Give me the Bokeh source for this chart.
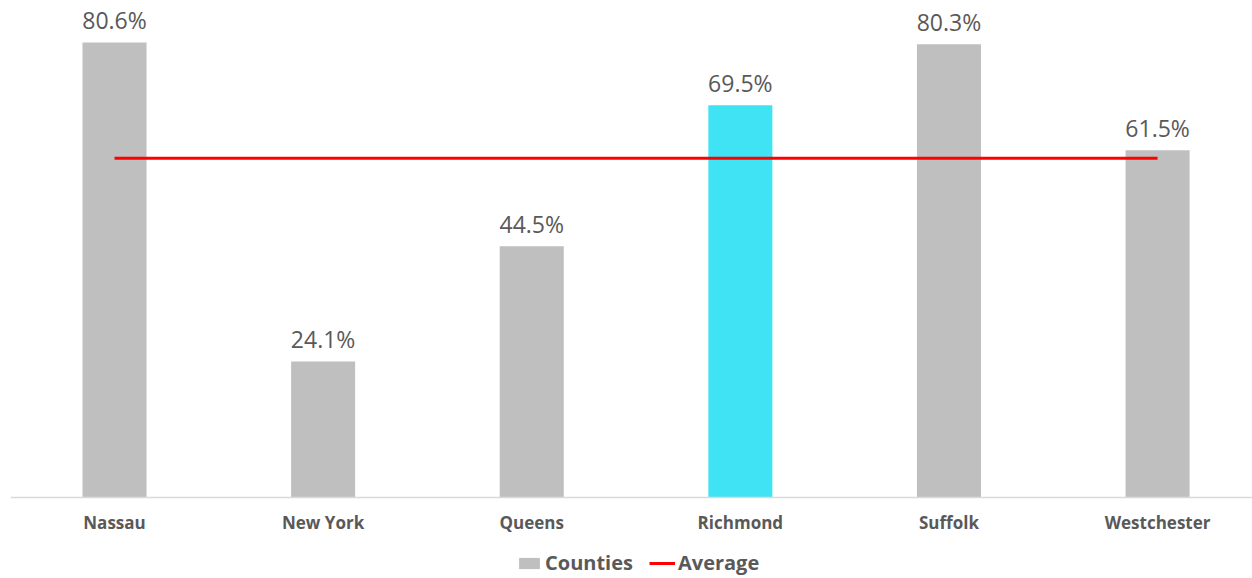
from bokeh.plotting import figure
from bokeh.models import Range1d, ColumnDataSource, Legend, LegendItem, FixedTicker
from bokeh.embed import file_html
from bokeh.resources import INLINE
from bokeh.core.properties import value

counties = ["Nassau", "New York", "Queens", "Richmond", "Suffolk", "Westchester"]
rates = [80.6, 24.1, 44.5, 69.5, 80.3, 61.5]
bar_colors = ["#bfbfbf", "#bfbfbf", "#bfbfbf", "#3fe3f3", "#bfbfbf", "#bfbfbf"]

xs = list(range(len(counties)))
labels = [f"{v:.1f}%" for v in rates]
average = sum(rates) / len(rates)

src = ColumnDataSource(dict(x=xs, top=rates, color=bar_colors, label=labels))

p = figure(width=1252, height=578, output_backend="svg", toolbar_location=None,
           x_range=Range1d(-0.4986, 5.455), y_range=Range1d(-14.35, 88.04),
           min_border_left=10, min_border_right=0, min_border_top=0, min_border_bottom=0)

bars = p.vbar(x="x", top="top", bottom=0, width=0.307, fill_color="color",
              line_color=None, source=src)
avg_line = p.line(x=[xs[0], xs[-1]], y=[average, average], line_color="#ff0000", line_width=3)

p.text(x="x", y="top", text="label", source=src, text_align="center",
       text_baseline="bottom", y_offset=-6, text_font=value("Open Sans"),
       text_font_size="23px", text_color="#595959")

p.yaxis.visible = False
p.xgrid.visible = False
p.ygrid.visible = False
p.outline_line_color = None

ax = p.xaxis[0]
ax.fixed_location = 0
ax.ticker = FixedTicker(ticks=xs)
ax.major_label_overrides = {i: c for i, c in zip(xs, counties)}
ax.axis_line_color = "#d9d9d9"
ax.axis_line_width = 1.5
ax.major_tick_line_color = None
ax.minor_tick_line_color = None
ax.major_label_standoff = 8
ax.major_label_text_font = "Open Sans"
ax.major_label_text_font_style = "bold"
ax.major_label_text_font_size = "17px"
ax.major_label_text_color = "#595959"

legend = Legend(items=[LegendItem(label="Counties", renderers=[bars]),
                       LegendItem(label="Average", renderers=[avg_line])],
                orientation="horizontal", location=(506, 2),
                label_text_font="Open Sans", label_text_font_style="bold",
                label_text_font_size="20px", label_text_color="#595959",
                glyph_width=26, glyph_height=14, label_standoff=3, spacing=16,
                padding=0, margin=0, border_line_color=None, background_fill_alpha=0)
p.add_layout(legend, "center")

open("out.html", "w").write(file_html(p, INLINE))
